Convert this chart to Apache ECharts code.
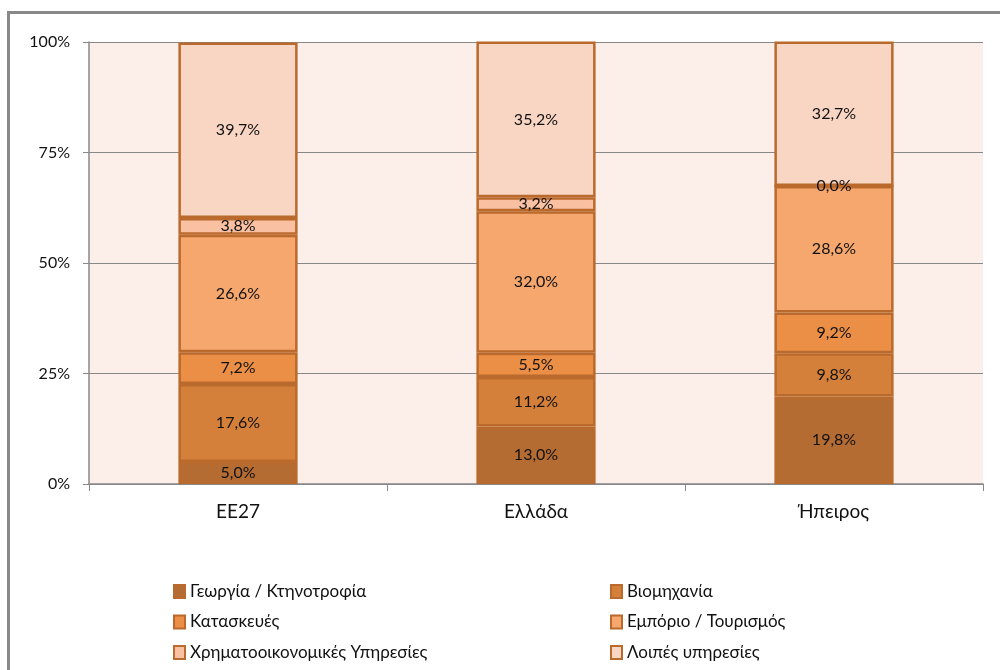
<!DOCTYPE html>
<html><head><meta charset="utf-8">
<script src="https://cdn.jsdelivr.net/npm/echarts@6/dist/echarts.min.js"></script>
<style>html,body{margin:0;padding:0;background:#fff}#c{width:1000px;height:670px}</style>
</head><body><div id="c"></div>
<script>
var categories = ['ΕΕ27', 'Ελλάδα', 'Ήπειρος'];
var seriesNames = ['Γεωργία / Κτηνοτροφία', 'Βιομηχανία', 'Κατασκευές', 'Εμπόριο / Τουρισμός', 'Χρηματοοικονομικές Υπηρεσίες', 'Λοιπές υπηρεσίες'];
var agriculture = [5.0, 13.0, 19.8];
var industry = [17.6, 11.2, 9.8];
var construction = [7.2, 5.5, 9.2];
var trade = [26.6, 32.0, 28.6];
var finance = [3.8, 3.2, 0.0];
var otherServices = [39.7, 35.2, 32.7];
var yTicks = ['0%', '25%', '50%', '75%', '100%'];
var colors = ['#B46C33', '#D4803B', '#EC8F46', '#F6A76E', '#F9C1A2', '#F9D6C4'];

var values = [agriculture, industry, construction, trade, finance, otherServices];
var font = 'Lato, "Open Sans", sans-serif';
var series = values.map(function (v, i) {
  return {
    name: seriesNames[i], type: 'bar', stack: 'total', barWidth: '40%',
    data: v,
    itemStyle: { color: colors[i], borderColor: '#BA6A2C', borderWidth: 2.5 },
    label: { show: true, position: 'inside', color: '#111', fontFamily: font, fontSize: 16,
      formatter: function (p) { return p.value.toFixed(1).replace('.', ',') + '%'; } },
    emphasis: { disabled: true }
  };
});

var legendText = { fontFamily: font, fontSize: 17, color: '#111' };
var chart = echarts.init(document.getElementById('c'));
chart.setOption({
  animation: false,
  backgroundColor: '#fff',
  graphic: [{ type: 'rect', shape: { x: 8.5, y: 12.5, width: 1100, height: 800 }, style: { fill: 'none', stroke: '#888', lineWidth: 3 }, z: 100 }],
  grid: { left: 89, right: 17, top: 42, bottom: 186, show: true, backgroundColor: '#FCEEE9', borderWidth: 0 },
  xAxis: {
    type: 'category', data: categories,
    axisLine: { lineStyle: { color: '#888', width: 1.5 } },
    axisTick: { show: true, length: 7, lineStyle: { color: '#888' } },
    axisLabel: { color: '#111', fontFamily: font, fontSize: 19, margin: 18 }
  },
  yAxis: {
    type: 'value', min: 0, max: 100, interval: 25,
    axisLine: { show: true, lineStyle: { color: '#888', width: 1.5 } },
    axisTick: { show: true, length: 6, lineStyle: { color: '#888' } },
    splitLine: { lineStyle: { color: '#888', width: 1 } },
    axisLabel: { color: '#111', fontFamily: font, fontSize: 16, margin: 19,
      formatter: function (v) { return yTicks[v / 25]; } }
  },
  legend: [
    { data: [seriesNames[0], seriesNames[2], seriesNames[4]], orient: 'vertical', left: 168, top: 578, itemGap: 13.5,
      itemWidth: 11, itemHeight: 13, icon: 'rect', textStyle: legendText },
    { data: [seriesNames[1], seriesNames[3], seriesNames[5]], orient: 'vertical', left: 605, top: 578, itemGap: 13.5,
      itemWidth: 11, itemHeight: 13, icon: 'rect', textStyle: legendText }
  ],
  series: series
});
</script></body></html>
